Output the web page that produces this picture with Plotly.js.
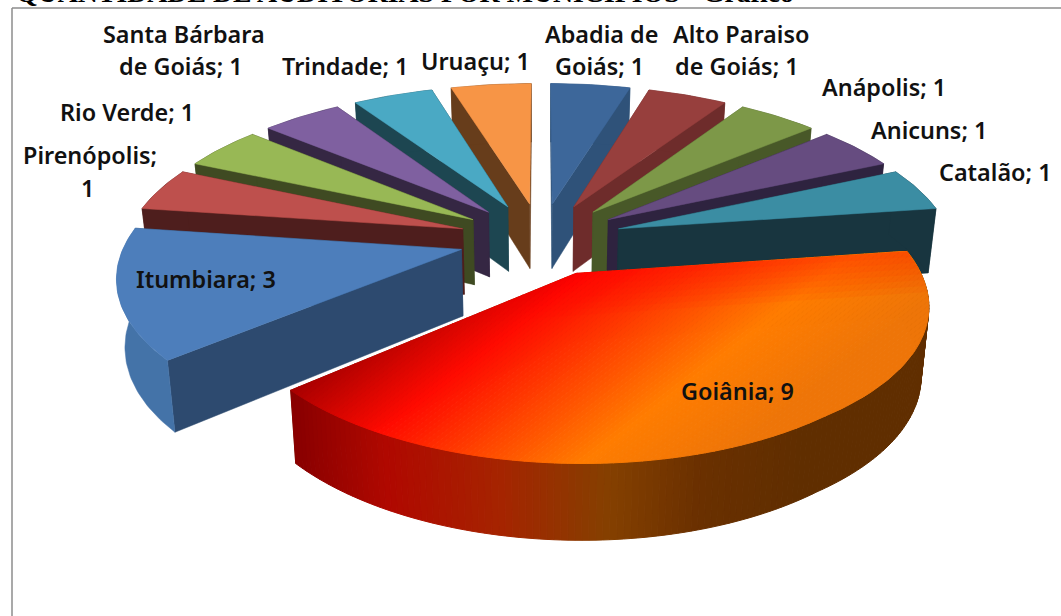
<!DOCTYPE html>
<html><head><meta charset="utf-8">
<script src="https://cdn.plot.ly/plotly-3.0.1.min.js"></script>
<style>html,body{margin:0;padding:0;background:#fff;overflow:hidden}#c{width:1061px;height:616px}</style>
</head><body><div id="c"></div>
<script>
// Data
const categories = ["Abadia de Goiás","Alto Paraiso de Goiás","Anápolis","Anicuns","Catalão","Goiânia","Itumbiara","Pirenópolis","Rio Verde","Santa Bárbara de Goiás","Trindade","Uruaçu"];
const values = [1,1,1,1,1,9,3,1,1,1,1,1];
const chartTitle = "QUANTIDADE DE AUDITORIAS POR MUNICÍPIOS - Gráfico";
// Styles
const topColors = ["#3d679a","#973f3d","#7d9848","#664c80","#3b8da3","#ff7c00","#4d7ebb","#be504d","#98b855","#7f60a0","#4aa9c4","#f79546"];
const wallColors = ["#2f5279","#6e2c2b","#485828","#2e233f","#18353f","#602e00","#2d4a6f","#4e1e1d","#3f4a22","#352743","#1d4651","#673d1b"];
const rimColors = ["#2f5279","#6e2c2b","#485828","#2e233f","#18353f","#602e00","#4473a8","#4e1e1d","#3f4a22","#352743","#1d4651","#673d1b"];
const drawOrder = [0,11,1,10,2,9,3,8,4,7,6,5];
// Label layout: [line text, x, y]
const labelLines = [
 ["Abadia de",601,34],["Goiás; 1",599,66],["Alto Paraiso",741,34],["de Goiás; 1",737,66],
 ["Anápolis; 1",884,87],["Anicuns; 1",929,130],["Catalão; 1",995,172],["Goiânia; 9",737,391],
 ["Itumbiara; 3",206,279],["Pirenópolis;",90,155],["1",87,188],["Rio Verde; 1",127,112],
 ["Santa Bárbara",184,34],["de Goiás; 1",181,66],["Trindade; 1",345,66],["Uruaçu; 1",475,61]];
// Projection of the tilted pie onto the pixel-scaled axes
const cx=541, cy=239, A=331, B=149, K=0.154, H=66, EXPL=0.245, BOTTOM=0.98;
function proj(X,Y,low,sx){const d=1+K*Y, s=low?BOTTOM:1;return [cx+sx*s*A*X/d, cy-s*B*Y/d+(low?H/d:0)];}
function hex(c){return [1,3,5].map(i=>parseInt(c.substr(i,2),16));}
function ramp(stops,v){
  if(v<=stops[0][0])return stops[0][1];
  for(let i=1;i<stops.length;i++){if(v<=stops[i][0]){
    const f=(v-stops[i-1][0])/(stops[i][0]-stops[i-1][0]),a=hex(stops[i-1][1]),b=hex(stops[i][1]);
    return "rgb("+a.map((q,j)=>Math.round(q+(b[j]-q)*f)).join(",")+")";}}
  return stops[stops.length-1][1];
}
const topStops=[[487,"#a80000"],[573,"#ff0a00"],[720,"#ff7c00"],[804,"#ee7508"],[950,"#ee7508"]];
const rimStops=[[295,"#8a0000"],[385,"#b00800"],[500,"#a52400"],[610,"#844000"],[700,"#6a3000"],[800,"#602e00"],[940,"#602e00"]];
const NX=0.61, NY=0.79;
function poly(pts,color,w){
  return {type:"scatter",mode:"lines",x:pts.map(p=>p[0]).concat(pts[0][0]),y:pts.map(p=>p[1]).concat(pts[0][1]),
    fill:"toself",fillcolor:color,line:{color:color,width:w===undefined?0.5:w},hoverinfo:"skip",showlegend:false};
}
function clip(pts,keep){
  const out=[];
  for(let i=0;i<pts.length;i++){
    const a=pts[i],b=pts[(i+1)%pts.length],da=keep(a),db=keep(b);
    if(da>=0)out.push(a);
    if((da>=0)!==(db>=0)){const f=da/(da-db);out.push([a[0]+(b[0]-a[0])*f,a[1]+(b[1]-a[1])*f]);}
  }
  return out;
}
const total=values.reduce((a,b)=>a+b,0);
let acc=0;
const slices=values.map((v,i)=>{const t0=acc/total*2*Math.PI;acc+=v;const t1=acc/total*2*Math.PI;return {i,t0,t1};});
const traces=[];
drawOrder.forEach(idx=>{
  const {t0,t1}=slices[idx], m=(t0+t1)/2, ex=EXPL*Math.sin(m), ey=EXPL*Math.cos(m);
  const side = idx===5 ? 1 : (m>Math.PI ? (idx===6?1.012:1.016) : 1.006);
  const swell = t => { // slightly fuller shoulder of the big slice
    if(idx!==5) return 1;
    const f=(t-t0)/(1.05);
    return f>0&&f<1 ? 1+0.016*Math.sin(Math.PI*f) : 1;
  };
  const pt=(t,r,low)=>{const rr=r*swell(t);return proj(ex+rr*Math.sin(t),ey+rr*Math.cos(t),low,side);};
  const n=Math.max(4,Math.round((t1-t0)*180/Math.PI));
  const ts=[];for(let k=0;k<=n;k++)ts.push(t0+(t1-t0)*k/n);
  const face=t=>[pt(t,0,false),pt(t,1,false),pt(t,1,true),pt(t,0,true)];
  const right=m<Math.PI;
  traces.push(poly(face(right?t0:t1),wallColors[idx]));
  traces.push(poly(face(right?t1:t0),wallColors[idx]));
  if(idx===5){
    for(let k=0;k<n;k++){
      const q=[pt(ts[k],1,false),pt(ts[k+1],1,false),pt(ts[k+1],1,true),pt(ts[k],1,true)];
      const mx=(q[0][0]+q[1][0])/2;
      traces.push(poly(q,ramp(rimStops,mx),1));
    }
  } else {
    traces.push(poly(ts.map(t=>pt(t,1,false)).concat(ts.slice().reverse().map(t=>pt(t,1,true))),rimColors[idx]));
  }
  const top=[pt(0,0,false)].concat(ts.map(t=>pt(t,1,false)));
  if(idx===5){
    const step=4;
    for(let w=480;w<950;w+=step){
      let c=clip(top,p=>p[0]*NX+p[1]*NY-w);
      if(c.length>2)c=clip(c,p=>w+step-(p[0]*NX+p[1]*NY));
      if(c.length>2)traces.push(poly(c,ramp(topStops,w+step/2),1));
    }
    // redder sheen along the straight back edge of the slice
    const a=top[0], b=top[1], L=Math.hypot(b[0]-a[0],b[1]-a[1]);
    const dist=p=>((b[0]-a[0])*(p[1]-a[1])-(b[1]-a[1])*(p[0]-a[0]))/L;
    for(let k=1;k<=7;k++){
      const c=clip(top,p=>k*6-dist(p));
      if(c.length>2){const tr=poly(c,"rgba(255,0,0,0.055)",0);tr.line={width:0};traces.push(tr);}
    }
  } else traces.push(poly(top,topColors[idx]));
});
const annotations=labelLines.map(l=>({x:l[1],y:l[2],xref:"x",yref:"y",text:l[0],showarrow:false,xanchor:"center",yanchor:"middle",
  font:{family:"Noto Sans, sans-serif",size:23.4,color:"#111",weight:600}}));
annotations.push({x:14,y:10,xref:"x",yref:"y",text:"<b>"+chartTitle+"</b>",showarrow:false,xanchor:"left",yanchor:"bottom",
  font:{family:"Liberation Serif, serif",size:27.8,color:"#000"}});
const shapes=[
 {type:"line",xref:"x",yref:"y",x0:12,x1:12,y0:8,y1:616,line:{color:"#8c8c8c",width:1.5}},
 {type:"line",xref:"x",yref:"y",x0:12,x1:1061,y0:8,y1:8,line:{color:"#8c8c8c",width:1.5}}];
Plotly.newPlot("c",traces,{width:1061,height:616,margin:{l:0,r:0,t:0,b:0},paper_bgcolor:"#fff",plot_bgcolor:"#fff",showlegend:false,
  xaxis:{range:[0,1061],visible:false,fixedrange:true},yaxis:{range:[616,0],visible:false,fixedrange:true},annotations,shapes},{displayModeBar:false,staticPlot:true});
</script></body></html>
